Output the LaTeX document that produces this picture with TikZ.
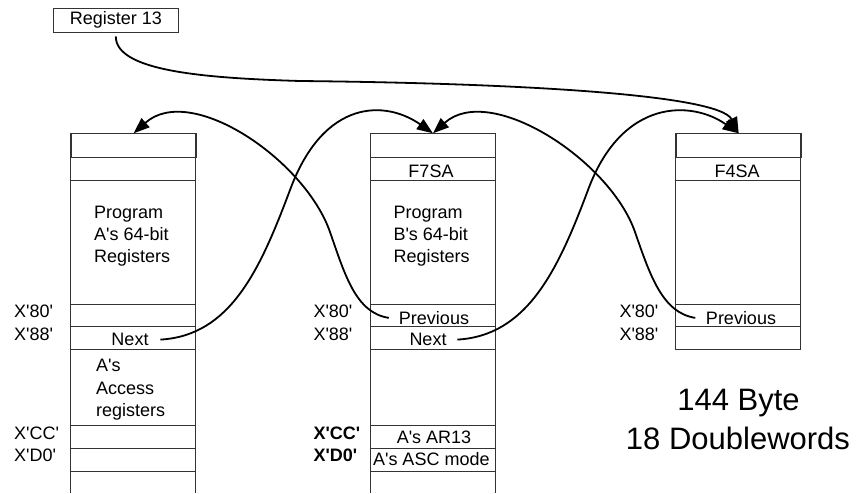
\documentclass[tikz,border=0pt]{standalone}
\usepackage{fontspec}
\setmainfont{Liberation Sans}
\usetikzlibrary{arrows.meta}
\newcommand{\apos}{\textquotesingle}
\begin{document}
\begin{tikzpicture}[x=1pt,y=-1pt,
  frame/.style={draw=black!80, line width=0.9pt},
  lbl/.style={inner sep=0pt, anchor=base west, font=\fontsize{18}{22}\selectfont},
  ctext/.style={inner sep=0pt, anchor=base, font=\fontsize{18}{22}\selectfont},
  bigtext/.style={inner sep=0pt, anchor=base, font=\fontsize{31}{36}\selectfont},
  cell/.style={frame, minimum width=125pt, minimum height=23.4pt, anchor=north west, inner sep=0pt},
  link/.style={line width=1.8pt, -{Triangle[length=16pt,width=12pt]}},
]
\useasboundingbox (0,0) rectangle (856,493);

% Register 13 box
\node[frame, minimum width=125pt, minimum height=24pt, inner sep=0pt,
      font=\fontsize{18}{22}\selectfont] (reg) at (115.8,20.3) {Register 13};

% Column A
\node[cell] (A1) at (70.7,133.3) {};
\draw[frame] (70.7,133.3) -- (70.7,493) (195.7,133.3) -- (195.7,493);
\foreach \y in {180,304.3,326.3,349.3,425,448,471}
  \draw[frame] (70.7,\y) -- (195.7,\y);

% Column B
\node[cell] (B1) at (370,133.3) {};
\draw[frame] (370,133.3) -- (370,493) (495,133.3) -- (495,493);
\foreach \y in {180,304.3,326.3,349.3,425,448,471}
  \draw[frame] (370,\y) -- (495,\y);

% Column C
\node[cell] (C1) at (675.7,133.3) {};
\draw[frame] (675.7,133.3) -- (675.7,349.3) -- (800.7,349.3) -- (800.7,133.3);
\foreach \y in {180,304.3,326.3}
  \draw[frame] (675.7,\y) -- (800.7,\y);

% Column A texts
\node[lbl] (pa1) at (94,218.5) {Program};
\node[lbl] (pa2) at (94,240.7) {A\apos s 64-bit};
\node[lbl] (pa3) at (94,262.7) {Registers};
\node[ctext] (nextA) at (130,345.7) {Next};
\node[lbl] (ac1) at (96,371.7) {A\apos s};
\node[lbl] (ac2) at (96,394.3) {Access};
\node[lbl] (ac3) at (96,416.5) {registers};
\node[lbl] (a80) at (14,317) {X\apos 80\apos};
\node[lbl] (a88) at (14,340) {X\apos 88\apos};
\node[lbl] (acc) at (14,439.3) {X\apos CC\apos};
\node[lbl] (ad0) at (14,461.7) {X\apos D0\apos};

% Column B texts
\node[ctext] (f7) at (431,177.3) {F7SA};
\node[lbl] (pb1) at (393.3,218.5) {Program};
\node[lbl] (pb2) at (393.3,240.7) {B\apos s 64-bit};
\node[lbl] (pb3) at (393.3,262.7) {Registers};
\node[ctext] (prevB) at (434,324.3) {Previous};
\node[ctext] (nextB) at (428,345.7) {Next};
\node[ctext] (ar13) at (434,443.3) {A\apos s AR13};
\node[ctext] (asc) at (431.3,465) {A\apos s ASC mode};
\node[lbl] (b80) at (313.3,317) {X\apos 80\apos};
\node[lbl] (b88) at (313.3,340) {X\apos 88\apos};
\node[lbl, font=\fontsize{18}{22}\selectfont\bfseries] (bcc) at (313.3,439.3) {X\apos CC\apos};
\node[lbl, font=\fontsize{18}{22}\selectfont\bfseries] (bd0) at (313.3,461.7) {X\apos D0\apos};

% Column C texts
\node[ctext] (f4) at (737,177.3) {F4SA};
\node[ctext] (prevC) at (741,324.3) {Previous};
\node[lbl] (c80) at (619.3,317) {X\apos 80\apos};
\node[lbl] (c88) at (619.3,340) {X\apos 88\apos};

% Size note
\node[bigtext] (sz1) at (738.5,410.7) {144 Byte};
\node[bigtext] (sz2) at (738,449.3) {18 Doublewords};

% Connectors
\coordinate (m1) at (290,190);
\coordinate (m2) at (330,232);
\coordinate (m3) at (588,190);
\coordinate (m4) at (635,232);
\coordinate (m5) at (300,81);

\draw[link] ([xshift=11.7pt]nextA.east) .. controls +(70,-4) and +(-30,80) .. (m1)
  .. controls +(34,-92) and +(-47,-33) .. (B1.north);
\draw[link] ([xshift=-10pt]prevB.west) .. controls +(-33,-5) and +(15,43) .. (m2)
  .. controls +(-25,-72) and +(57,-51) .. (A1.north);
\draw[link] ([xshift=10.7pt]nextB.east) .. controls +(70,-4) and +(-30,80) .. (m3)
  .. controls +(34,-92) and +(-47,-33) .. (C1.north);
\draw[link] ([xshift=-10.5pt]prevC.west) .. controls +(-33,-5) and +(15,43) .. (m4)
  .. controls +(-25,-72) and +(57,-51) .. (B1.north);
\draw[link] ([yshift=-3.7pt]reg.south) .. controls +(0,34) and +(-100,-3) .. (m5)
  .. controls +(200,2) and +(-20,-40) .. (C1.north);
\end{tikzpicture}
\end{document}
